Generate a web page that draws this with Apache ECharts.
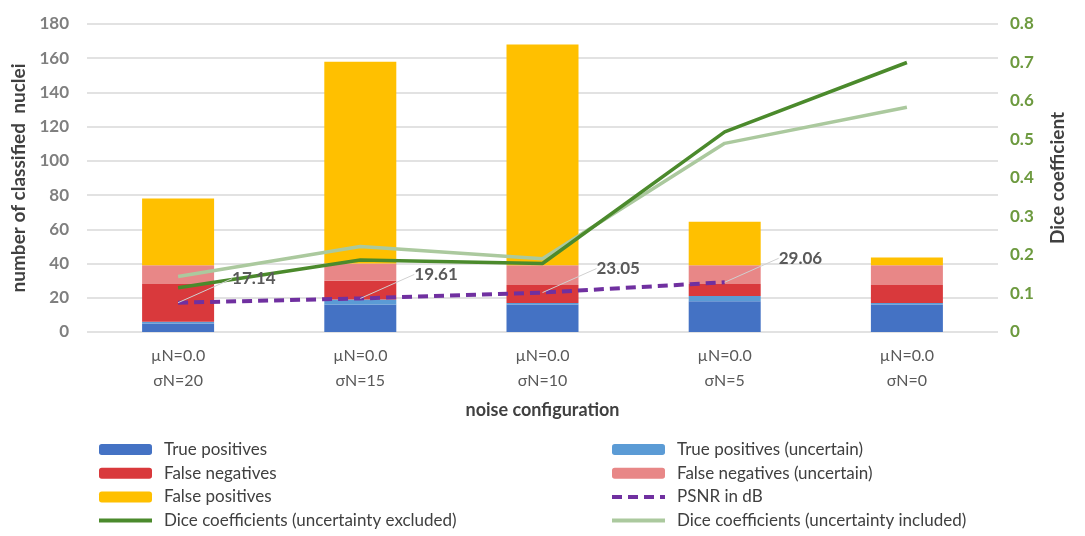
<!DOCTYPE html>
<html>
<head>
<meta charset="utf-8">
<script src="https://cdn.jsdelivr.net/npm/echarts@6/dist/echarts.min.js"></script>
<style>
  html,body{margin:0;padding:0;background:#fff}
  #chart{width:1085px;height:536px}
</style>
</head>
<body>
<div id="chart"></div>
<script>
var categories = ['µN=0.0\nσN=20', 'µN=0.0\nσN=15', 'µN=0.0\nσN=10', 'µN=0.0\nσN=5', 'µN=0.0\nσN=0'];
var truePositives = [5, 16, 16, 18, 16];
var truePositivesUncertain = [1, 3, 1, 3, 1];
var falseNegatives = [22, 11, 10.5, 7, 10.5];
var falseNegativesUncertain = [11, 10, 11.5, 11, 11.5];
var falsePositives = [39, 118, 129, 25.5, 4.5];
var psnr = [17.14, 19.61, 23.05, 29.06, '-'];
var diceExcluded = [0.115, 0.187, 0.178, 0.52, 0.70];
var diceIncluded = [0.144, 0.222, 0.19, 0.49, 0.584];

var FONT = 'Lato';
var chart = echarts.init(document.getElementById('chart'));

function bar(name, data, color){
  return { name: name, type: 'bar', stack: 'nuclei', barWidth: 72, data: data,
    itemStyle: { color: color }, emphasis: { disabled: true } };
}
function dice(name, data, color){
  return { name: name, type: 'line', yAxisIndex: 1, data: data, symbol: 'none',
    lineStyle: { color: color, width: 3.5 }, itemStyle: { color: color }, emphasis: { disabled: true } };
}

// line entries in the legend: no marker, thick stroke
var lineLegend = function(name){ return { name: name, itemStyle: { opacity: 0 }, lineStyle: { width: 4 } }; };
var legendText = { fontSize: 17, color: '#404040', fontFamily: FONT, lineHeight: 17, padding: [0, 0, 0, 7] };

chart.setOption({
  animation: false,
  textStyle: { fontFamily: FONT },
  grid: { left: 87, right: 87, top: 24, bottom: 204 },
  legend: [
    { orient: 'vertical', left: 97, top: 441, padding: 0, itemWidth: 53, itemHeight: 11, itemGap: 6.7,
      textStyle: legendText,
      data: ['True positives', 'False negatives', 'False positives', lineLegend('Dice coefficients (uncertainty excluded)')] },
    { orient: 'vertical', left: 610, top: 441, padding: 0, itemWidth: 53, itemHeight: 11, itemGap: 6.7,
      textStyle: legendText,
      data: ['True positives (uncertain)', 'False negatives (uncertain)', lineLegend('PSNR in dB'), lineLegend('Dice coefficients (uncertainty included)')] }
  ],
  xAxis: {
    type: 'category', data: categories,
    axisLine: { show: false }, axisTick: { show: false },
    axisLabel: { fontSize: 16, color: '#595959', lineHeight: 25, margin: 11, fontFamily: FONT },
    name: 'noise configuration', nameLocation: 'middle', nameGap: 69,
    nameTextStyle: { fontSize: 18, color: '#404040', fontWeight: 'bold', fontFamily: FONT }
  },
  yAxis: [
    { type: 'value', min: 0, max: 180, interval: 20,
      axisLabel: { fontSize: 17, color: '#7f7f7f', fontWeight: 'bold', margin: 18 },
      splitLine: { lineStyle: { color: '#d9d9d9', width: 1.5 } },
      name: 'number of classified  nuclei', nameLocation: 'middle', nameGap: 56,
      nameTextStyle: { fontSize: 19, color: '#404040', fontWeight: 'bold' } },
    { type: 'value', min: 0, max: 0.8, interval: 0.1, position: 'right',
      splitLine: { show: false },
      axisLabel: { fontSize: 17, color: '#6d9a3f', fontWeight: 'bold', margin: 12 },
      name: 'Dice coefficient', nameLocation: 'middle', nameGap: 50,
      nameTextStyle: { fontSize: 19, color: '#404040', fontWeight: 'bold' } }
  ],
  series: [
    bar('True positives', truePositives, '#4472c4'),
    bar('True positives (uncertain)', truePositivesUncertain, '#5b9bd5'),
    bar('False negatives', falseNegatives, '#d9393c'),
    bar('False negatives (uncertain)', falseNegativesUncertain, '#e88787'),
    bar('False positives', falsePositives, '#ffc000'),
    dice('Dice coefficients (uncertainty included)', diceIncluded, '#abc99e'),
    dice('Dice coefficients (uncertainty excluded)', diceExcluded, '#4b8a2c'),
    { name: 'PSNR in dB', type: 'line', yAxisIndex: 0, data: psnr,
      symbol: 'circle', symbolSize: 0, showSymbol: true,
      lineStyle: { color: '#7030a0', width: 4, type: [10, 6] }, itemStyle: { color: '#7030a0' },
      emphasis: { disabled: true },
      label: { show: true, position: 'right', distance: 5, fontSize: 17, fontWeight: 'bold', color: '#595959',
        formatter: function(p){ return p.value.toFixed(2); } },
      labelLayout: { dx: 49, dy: -24 },
      labelLine: { show: true, lineStyle: { color: '#d0d0d0', width: 1 } } }
  ]
});
</script>
</body>
</html>
